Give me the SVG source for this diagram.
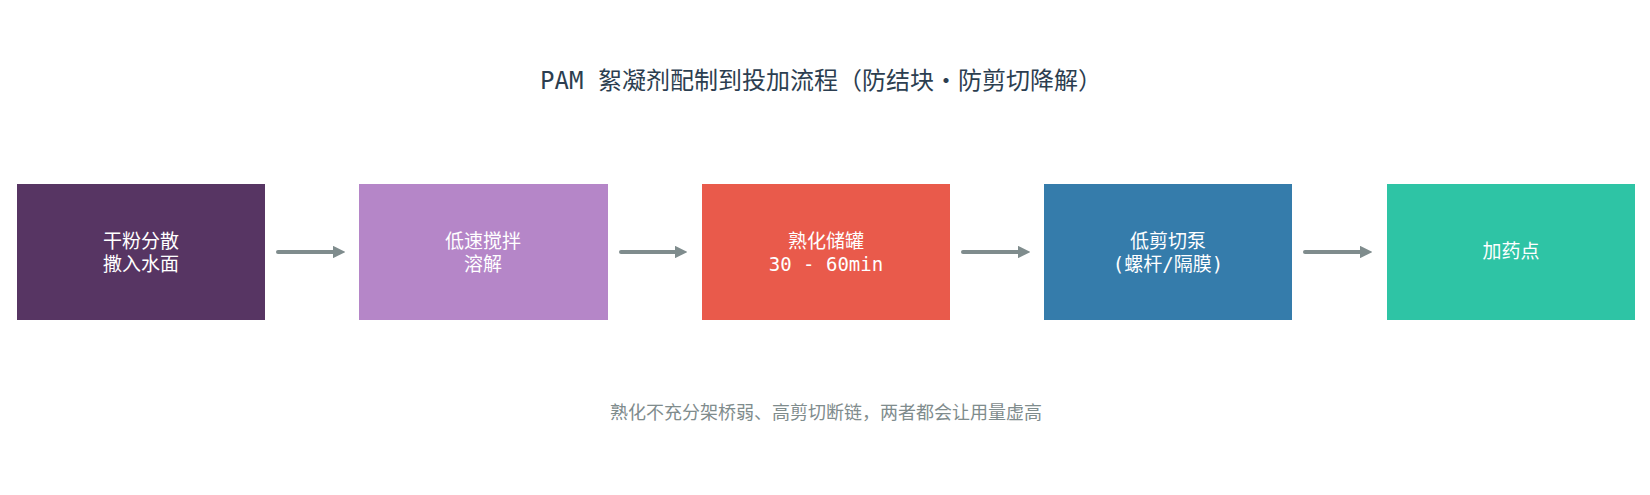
<svg xmlns="http://www.w3.org/2000/svg" width="1650" height="495" viewBox="0 0 1650 495">
<defs>
<style>
.t{font-family:"DejaVu Sans Mono","Noto Sans CJK SC",monospace;}
.k{font-family:"Noto Sans CJK SC",sans-serif;}
.n{fill:#fff;font-size:19px;text-anchor:middle}
.c{stroke:#7f8c8d;stroke-width:4;stroke-linecap:round;fill:none;marker-end:url(#a)}
</style>
<marker id="a" viewBox="0 0 10 10" refX="5" refY="5" markerWidth="3.2" markerHeight="3.2" orient="auto" markerUnits="strokeWidth"><path d="M0,0 L10,5 L0,10 z" fill="#7f8c8d"/></marker>
</defs>
<rect width="1650" height="495" fill="#fff"/>
<text class="t" x="821" y="89" font-size="24" fill="#2c3e50" text-anchor="middle">PAM 絮凝剂配制到投加流程<tspan class="k">（</tspan>防结块<tspan class="k">·</tspan>防剪切降解<tspan class="k">）</tspan></text>
<g id="n1"><rect x="17" y="184" width="248" height="136" fill="#573563"/><text class="t n" x="141" y="248">干粉分散</text><text class="t n" x="141" y="271">撒入水面</text></g>
<g id="n2"><rect x="359" y="184" width="249" height="136" fill="#b586c8"/><text class="t n" x="483" y="248">低速搅拌</text><text class="t n" x="483" y="271">溶解</text></g>
<g id="n3"><rect x="702" y="184" width="248" height="136" fill="#e95a4b"/><text class="t n" x="826" y="248">熟化储罐</text><text class="t n" x="826" y="271">30 - 60min</text></g>
<g id="n4"><rect x="1044" y="184" width="248" height="136" fill="#357cab"/><text class="t n" x="1168" y="248">低剪切泵</text><text class="t n" x="1168" y="271">(螺杆/隔膜)</text></g>
<g id="n5"><rect x="1387" y="184" width="248" height="136" fill="#2ec4a5"/><text class="t n" x="1511" y="258">加药点</text></g>
<g id="connectors">
<line class="c" x1="278" y1="252" x2="339" y2="252"/>
<line class="c" x1="621" y1="252" x2="681" y2="252"/>
<line class="c" x1="963" y1="252" x2="1024" y2="252"/>
<line class="c" x1="1305" y1="252" x2="1366" y2="252"/>
</g>
<text class="t" x="826" y="419" font-size="18" fill="#7f8c8d" text-anchor="middle">熟化不充分架桥弱、高剪切断链，两者都会让用量虚高</text>
</svg>
